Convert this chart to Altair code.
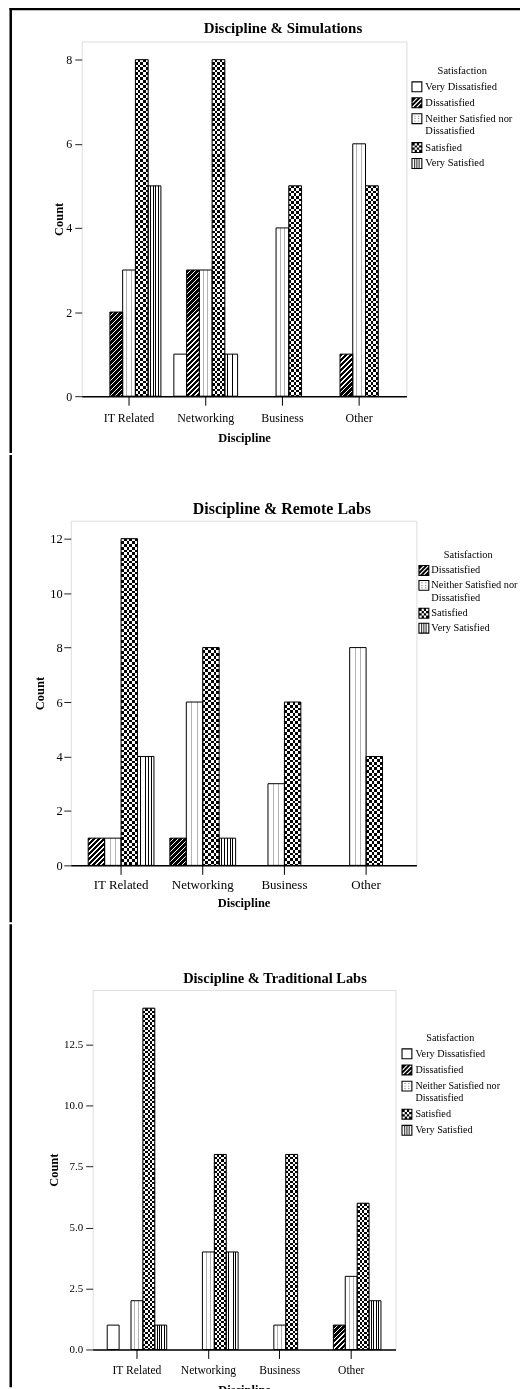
import json
import altair as alt
import pandas as pd

FONT = "Liberation Serif"

# ---------------- data ----------------
disciplines = ["IT Related", "Networking", "Business", "Other"]
sat_all = ["Very Dissatisfied", "Dissatisfied", "Neither Satisfied nor Dissatisfied",
           "Satisfied", "Very Satisfied"]
sat_remote = ["Dissatisfied", "Neither Satisfied nor Dissatisfied", "Satisfied", "Very Satisfied"]

# Discipline & Simulations (IT Related, Networking, Business, Other)
sim_vd = [0, 1, 0, 0]
sim_d = [2, 3, 0, 1]
sim_n = [3, 3, 4, 6]
sim_s = [8, 8, 5, 5]
sim_vs = [5, 1, 0, 0]

# Discipline & Remote Labs
rem_d = [1, 1, 0, 0]
rem_n = [1, 6, 3, 8]
rem_s = [12, 8, 6, 4]
rem_vs = [4, 1, 0, 0]

# Discipline & Traditional Labs
trad_vd = [1, 0, 0, 0]
trad_d = [0, 0, 0, 1]
trad_n = [2, 4, 1, 3]
trad_s = [14, 8, 8, 6]
trad_vs = [1, 4, 0, 2]


def table(cats, series):
    rows = []
    for cat, vals in zip(cats, series):
        for disc, v in zip(disciplines, vals):
            if v > 0:
                rows.append({"Discipline": disc, "Satisfaction": cat, "Count": v})
    return pd.DataFrame(rows)


# ---------------- pattern fills (gradients) ----------------
ND, DLT, FW = 40, 5.0, 0.28   # diagonal hatch: stripes, px per stripe (x+y), white fraction
NR = 80                        # checker rows


def r4(v):
    return round(v, 4)


def line_stops(w, centers, lw, color, bg):
    s = [{"offset": 0, "color": bg}]
    for p in centers:
        a = r4(max(0.0, (p - lw / 2) / w))
        b = r4(min(1.0, (p + lw / 2) / w))
        s += [{"offset": a, "color": bg}, {"offset": a, "color": color},
              {"offset": b, "color": color}, {"offset": b, "color": bg}]
    s.append({"offset": 1, "color": bg})
    return s


def col_stops(n):
    s = []
    for i in range(n):
        col = "#000000" if i % 2 == 0 else "#ffffff"
        s += [{"offset": r4(i / n), "color": col}, {"offset": r4((i + 1) / n), "color": col}]
    return s


def diag_stops():
    s = []
    for i in range(ND):
        m = r4((i + 1 - FW) / ND)
        s += [{"offset": r4(i / ND), "color": "#000000"}, {"offset": m, "color": "#000000"},
              {"offset": m, "color": "#ffffff"}, {"offset": r4((i + 1) / ND), "color": "#ffffff"}]
    return s


def row_stops():
    s = []
    clear = "rgba(255,255,255,0)"
    for i in range(NR):
        m = r4((i + 0.5) / NR)
        s += [{"offset": r4(i / NR), "color": "#ffffff"}, {"offset": m, "color": "#ffffff"},
              {"offset": m, "color": clear}, {"offset": r4((i + 1) / NR), "color": clear}]
    return s


def lit(d, **exprs):
    txt = json.dumps(d)
    for k, e in exprs.items():
        txt = txt.replace(json.dumps("@" + k), "(" + e + ")")
    return txt


def hgrad(stops):
    return {"gradient": "linear", "x1": 0, "y1": 0, "x2": 1, "y2": 0, "stops": stops}


# ---------------- legend symbols (custom paths) ----------------
def sqp(x0, y0, x1, y1, rev=False):
    if not rev:
        return f"M{x0:.3f},{y0:.3f}H{x1:.3f}V{y1:.3f}H{x0:.3f}Z"
    return f"M{x0:.3f},{y0:.3f}V{y1:.3f}H{x1:.3f}V{y0:.3f}Z"


T = 0.2
FRAME = sqp(-1, -1, 1, 1) + sqp(-1 + T, -1 + T, 1 - T, 1 - T, rev=True)


def clip(poly, a, b, c):
    out = []
    n = len(poly)
    for i in range(n):
        P = poly[i]
        Q = poly[(i + 1) % n]
        fp = a * P[0] + b * P[1] - c
        fq = a * Q[0] + b * Q[1] - c
        if fp <= 0:
            out.append(P)
        if (fp < 0 < fq) or (fq < 0 < fp):
            t = fp / (fp - fq)
            out.append((P[0] + t * (Q[0] - P[0]), P[1] + t * (Q[1] - P[1])))
    return out


def polyp(pts):
    if len(pts) < 3:
        return ""
    return "M" + "L".join(f"{x:.3f},{y:.3f}" for x, y in pts) + "Z"


inner = [(-1 + T, -1 + T), (1 - T, -1 + T), (1 - T, 1 - T), (-1 + T, 1 - T)]
diag_path = FRAME
for a, b in [(-1.6, -0.95), (-0.65, -0.15), (0.15, 0.65), (0.95, 1.6)]:
    p = clip(inner, 1, 1, b)
    p = clip(p, -1, -1, -a)
    diag_path += polyp(p)

checker_path = FRAME
cell = (2 - 2 * T) / 4
for i in range(4):
    for j in range(4):
        if (i + j) % 2 == 0:
            x0 = -1 + T + i * cell
            y0 = -1 + T + j * cell
            checker_path += sqp(x0, y0, x0 + cell, y0 + cell)

dots_path = FRAME
for cx in (-0.35, 0.35):
    for cy in (-0.45, 0.0, 0.45):
        dots_path += sqp(cx - 0.07, cy - 0.07, cx + 0.07, cy + 0.07)

vlines_path = FRAME
for cx in (-0.4, 0.0, 0.4):
    vlines_path += sqp(cx - 0.08, -1 + T, cx + 0.08, 1 - T)

legend_shapes = {
    "Very Dissatisfied": FRAME,
    "Dissatisfied": diag_path,
    "Neither Satisfied nor Dissatisfied": dots_path,
    "Satisfied": checker_path,
    "Very Satisfied": vlines_path,
}

LABEL_EXPR = ("datum.label == 'Neither Satisfied nor Dissatisfied' ? "
              "['Neither Satisfied nor', 'Dissatisfied'] : datum.label")

# page geometry for the outer frame (page pixels)
SPACER_W = 0.5
FR_L0, FR_L1 = 8.0 + SPACER_W, 10.5 + SPACER_W
FR_T0, FR_T1 = 8.0, 10.5
SEG_TOP = [-28.0, 455.0, 924.0]     # chart 1's piece starts above the (clipped) page top
SEG_BOT = [455.0, 924.0, 1389.0]
FR_RIGHT = 521.0
TOP_CLIP = 40.0                      # top padding removed so that plot 1 sits at y=42

one = pd.DataFrame({"k": [0]})


def build(idx, title, cats, series, W, H, ymax, yvals, yfmt, pi, po, ncols,
          tfs, tdx, tbase, xlfs, ylfs, xlpad, xtpad, ylpad, ytpad,
          lx, ly, lfs, lrow, ltpad, loff, origin):
    df = table(cats, series)
    n = len(cats)
    step = W / (4 - pi + 2 * po)
    w = step * (1 - pi) / n
    ppu = H / ymax
    ox, oy = origin

    # fills
    m = max(2, round(w / 2.6))
    vs_g = hgrad(line_stops(w, [w * k / m for k in range(1, m)], 0.9, "#000000", "#ffffff"))
    n_g = hgrad(line_stops(w, [w * 0.33, w * 0.67], 1.0, "#b4b4b4", "#ffffff"))
    s_g = hgrad(col_stops(ncols))
    wsq = w * w
    hh = f"datum.Count*{ppu:.4f}"
    d_g = lit({"gradient": "linear", "x1": 0, "y1": 0, "x2": "@x2", "y2": "@y2",
               "stops": diag_stops()},
              x2=f"{ND * DLT * w:.4f}/({wsq:.4f}+pow({hh},2))",
              y2=f"{ND * DLT:.4f}*{hh}/({wsq:.4f}+pow({hh},2))")
    fill_expr = (
        "datum.Satisfaction === 'Dissatisfied' ? " + d_g +
        " : datum.Satisfaction === 'Neither Satisfied nor Dissatisfied' ? " + json.dumps(n_g) +
        " : datum.Satisfaction === 'Satisfied' ? " + json.dumps(s_g) +
        " : datum.Satisfaction === 'Very Satisfied' ? " + json.dumps(vs_g) +
        " : 'white'"
    )
    c = w / ncols
    row_g = lit({"gradient": "linear", "x1": 0, "y1": 0, "x2": 0, "y2": "@y2",
                 "stops": row_stops()},
                y2=f"{NR * 2 * c:.4f}/({hh})")

    xenc = alt.X("Discipline:N", sort=disciplines, title="Discipline",
                 scale=alt.Scale(domain=disciplines, paddingInner=pi, paddingOuter=po),
                 axis=alt.Axis(labelAngle=0, labelFont=FONT, labelFontSize=xlfs,
                               labelColor="black", titleFont=FONT, titleFontSize=12.5,
                               titleFontWeight="bold", titleColor="black", tickSize=9,
                               tickColor="black", domainColor="black", domainWidth=1.5,
                               labelPadding=xlpad, titlePadding=xtpad, grid=False, zindex=1))
    xoff = alt.XOffset("Satisfaction:N", sort=cats,
                       scale=alt.Scale(domain=cats, paddingInner=0, paddingOuter=0))
    yenc = alt.Y("Count:Q", title="Count",
                 scale=alt.Scale(domain=[0, ymax], nice=False, zero=True),
                 axis=alt.Axis(values=yvals, format=yfmt, grid=False, domain=False,
                               tickSize=7, tickColor="#222222", labelFont=FONT,
                               labelFontSize=ylfs, labelColor="black", labelPadding=ylpad,
                               titleFont=FONT, titleFontSize=12.5, titleFontWeight="bold",
                               titleColor="black", titlePadding=ytpad))

    base = alt.Chart(df).transform_calculate(fillobj=fill_expr).mark_bar(strokeWidth=0).encode(
        x=xenc, xOffset=xoff, y=yenc, fill=alt.Fill("fillobj:N", scale=None))
    checker = alt.Chart(df).transform_filter(
        alt.datum.Satisfaction == "Satisfied"
    ).transform_calculate(rowobj=row_g).mark_bar(blend="difference", strokeWidth=0).encode(
        x=xenc, xOffset=xoff, y=yenc, fill=alt.Fill("rowobj:N", scale=None))
    outline = alt.Chart(df).mark_bar(fillOpacity=0, stroke="black", strokeWidth=1).encode(
        x=xenc, xOffset=xoff, y=yenc)
    legend_layer = alt.Chart(df).mark_point(filled=True, opacity=0, color="black").encode(
        x=xenc, xOffset=xoff, y=yenc,
        shape=alt.Shape("Satisfaction:N", sort=cats,
                        scale=alt.Scale(domain=cats, range=[legend_shapes[k] for k in cats]),
                        legend=alt.Legend(
                            title="Satisfaction", orient="none", legendX=lx, legendY=ly,
                            padding=0, titleFont=FONT, titleFontSize=lfs,
                            titleFontWeight="normal", titleColor="black",
                            titleAnchor="middle", titlePadding=ltpad, labelFont=FONT,
                            labelFontSize=lfs, labelColor="black", labelOffset=loff,
                            symbolSize=121, symbolStrokeWidth=0, symbolOpacity=1,
                            symbolFillColor="black", rowPadding=lrow, labelExpr=LABEL_EXPR,
                            labelLimit=300)))

    layers = [base, checker, outline, legend_layer]
    left = alt.Chart(one).mark_rect(color="black").encode(
        x=alt.value(FR_L0 - ox), x2=alt.value(FR_L1 - ox),
        y=alt.value(SEG_TOP[idx] - oy), y2=alt.value(SEG_BOT[idx] - oy))
    layers.append(left)
    if idx == 0:
        top = alt.Chart(one).mark_rect(color="black").encode(
            x=alt.value(FR_L0 - ox), x2=alt.value(FR_RIGHT - ox),
            y=alt.value(FR_T0 - oy), y2=alt.value(FR_T1 - oy))
        layers.append(top)
    heading = alt.Chart(one).mark_text(
        text=title, font=FONT, fontSize=tfs, fontWeight="bold", color="black",
        align="center", baseline="alphabetic"
    ).encode(x=alt.value(W / 2 + tdx), y=alt.value(tbase))
    layers.append(heading)

    return alt.layer(*layers).properties(width=W, height=H)


def spacer():
    return alt.Chart(one).mark_rect(opacity=0).encode(
        x=alt.value(0), x2=alt.value(SPACER_W), y=alt.value(0), y2=alt.value(1)
    ).properties(width=SPACER_W, height=1,
                 view=alt.ViewBackground(fillOpacity=0, strokeOpacity=0))


def row(ch):
    return alt.hconcat(spacer(), ch, spacing=0).resolve_scale(
        xOffset="independent", shape="independent").resolve_legend(shape="independent")


c1 = build(0, "Discipline & Simulations", sat_all, [sim_vd, sim_d, sim_n, sim_s, sim_vs],
           326, 356, 8.43, [0, 2, 4, 6, 8], "d", 0.169, 0.2013, 5,
           15, 39, -9, 12, 12, 7.5, 8, 3, 0.5, 331, 24.4, 10.5, 5, 5, 3, (81, 42))
c2 = build(1, "Discipline & Remote Labs", sat_remote, [rem_d, rem_n, rem_s, rem_vs],
           347, 346, 12.66, [0, 2, 4, 6, 8, 10, 12], "d", 0.195, 0.2134, 6,
           16, 38.5, -6.5, 13, 12.5, 4, 5, 1.5, 3, 349, 29, 10.4, 4, 5, 2, (70, 521))
c3 = build(2, "Discipline & Traditional Labs", sat_all, [trad_vd, trad_d, trad_n, trad_s, trad_vs],
           304, 361, 14.75, [0, 2.5, 5, 7.5, 10, 12.5], ".1f", 0.167, 0.2035, 5,
           14.5, 31, -7, 11.6, 11, 6, 8, 3, 3, 310, 43, 10.2, 5.2, 5.5, 3, (92, 990))

chart = alt.vconcat(row(c1), row(c2), row(c3), spacing=0).resolve_scale(
    xOffset="independent", shape="independent"
).resolve_legend(shape="independent").properties(
    padding={"top": -TOP_CLIP, "left": 0, "right": 0, "bottom": 0}
).configure_view(
    fill="#eeeeee", stroke="#5a5a5a", strokeWidth=1
).configure(background="white")

chart.save("out.html", embed_options={"renderer": "svg", "actions": False})
